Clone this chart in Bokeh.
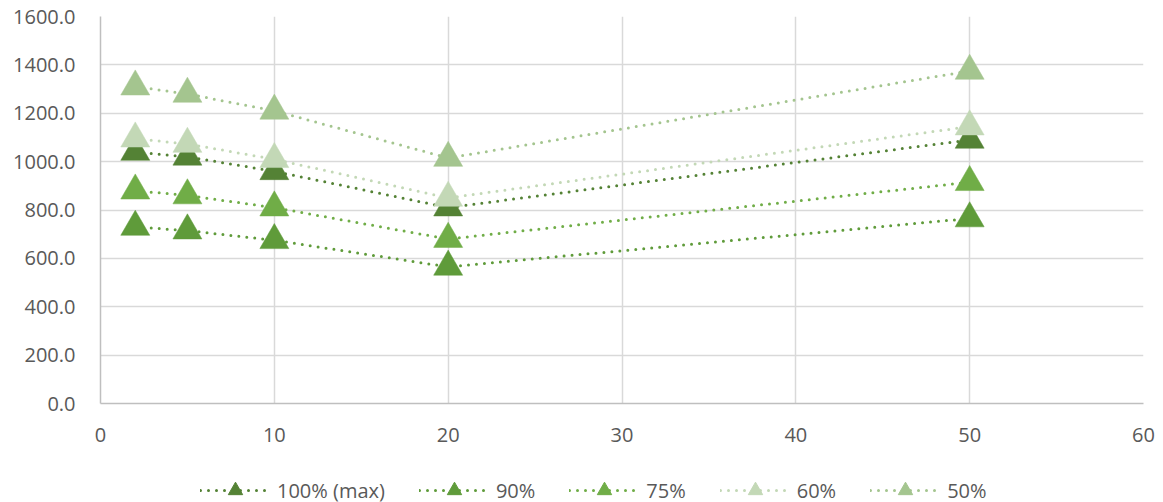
from bokeh.plotting import figure
from bokeh.layouts import column
from bokeh.models import (Range1d, SingleIntervalTicker, PrintfTickFormatter,
                          Legend, LegendItem, ColumnDataSource)
from bokeh.embed import file_html
from bokeh.resources import INLINE

# ---- data ----
x_values = [2, 5, 10, 20, 50]
series_names = ["100% (max)", "90%", "75%", "60%", "50%"]
s100 = [1040, 1020, 960, 810, 1090]
s90 = [730, 715, 675, 565, 765]
s75 = [880, 860, 810, 680, 915]
s60 = [1095, 1073, 1010, 850, 1145]
s50 = [1310, 1280, 1210, 1015, 1375]
series_values = [s100, s90, s75, s60, s50]
colors = ["#548235", "#5F9B3A", "#70AD47", "#C3D8B6", "#A4C58F"]

FONT = "Open Sans"
TXT = "#595959"

# ---- main chart ----
p = figure(width=1163, height=450, output_backend="svg", toolbar_location=None,
           x_range=Range1d(0, 60), y_range=Range1d(0, 1600),
           min_border_left=100, min_border_right=20, min_border_top=16,
           min_border_bottom=47)
p.outline_line_color = None
p.background_fill_color = "white"
p.border_fill_color = "white"

p.xaxis.ticker = SingleIntervalTicker(interval=10)
p.yaxis.ticker = SingleIntervalTicker(interval=200)
p.yaxis.formatter = PrintfTickFormatter(format="%.1f")
for ax in (p.xaxis, p.yaxis):
    ax.axis_line_color = "#BFBFBF"
    ax.axis_line_width = 1.5
    ax.major_tick_line_color = None
    ax.minor_tick_line_color = None
    ax.major_tick_out = 0
    ax.major_tick_in = 0
    ax.major_label_text_font = FONT
    ax.major_label_text_font_size = "20px"
    ax.major_label_text_color = TXT
p.yaxis.major_label_standoff = 21
p.xaxis.major_label_standoff = 20

p.xgrid.grid_line_color = "#D9D9D9"
p.ygrid.grid_line_color = "#D9D9D9"
p.xgrid.grid_line_width = 1.5
p.ygrid.grid_line_width = 1.5

line_style = dict(line_width=3, line_dash="0 8", line_cap="round")
sources = []
for vals in series_values:
    src = ColumnDataSource(dict(x=x_values, y=vals))
    sources.append(src)
for src, c in zip(sources, colors):
    p.line("x", "y", source=src, line_color=c, **line_style)
for src, c in zip(sources, colors):
    p.scatter("x", "y", source=src, marker="triangle", size=29,
              fill_color=c, line_color=c, line_width=0.5)

# ---- legend strip below the chart ----
lg = figure(width=1163, height=52, output_backend="svg", toolbar_location=None,
            x_range=Range1d(0, 60), y_range=Range1d(0, 1600),
            x_axis_location=None, y_axis_location=None, min_border=0)
lg.outline_line_color = None
lg.grid.visible = False
items = []
for name, vals, c in zip(series_names, series_values, colors):
    src = ColumnDataSource(dict(x=x_values, y=vals))
    lr = lg.line("x", "y", source=src, line_color=c, visible=False, **line_style)
    sr = lg.scatter("x", "y", source=src, marker="triangle", size=29,
                    fill_color=c, line_color=c, visible=False)
    items.append(LegendItem(label=name, renderers=[lr, sr]))

legend = Legend(items=items, orientation="horizontal", location=(100, -6),
                glyph_width=70, glyph_height=36, label_standoff=7, spacing=34,
                padding=0, margin=0, border_line_color=None,
                background_fill_alpha=0,
                label_text_font=FONT, label_text_font_size="20px",
                label_text_color=TXT)
lg.add_layout(legend, "center")

open("out.html", "w").write(file_html(column(p, lg), INLINE))
